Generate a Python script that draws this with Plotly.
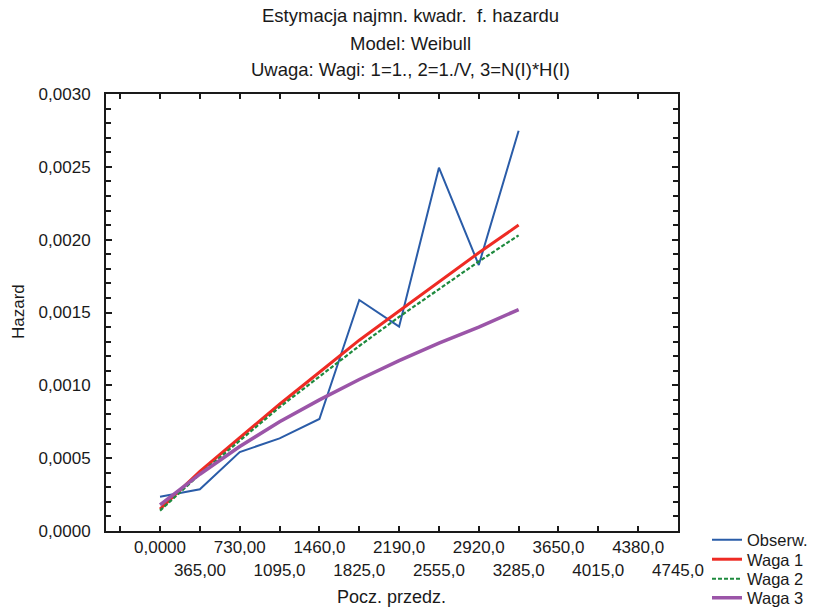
import plotly.graph_objects as go

# ---- data ----
x_start = [0, 365, 730, 1095, 1460, 1825, 2190, 2555, 2920, 3285]
obserw = [0.000235, 0.000286, 0.000542, 0.000636, 0.000769, 0.001586, 0.001403, 0.002494, 0.001826, 0.002748]
waga1 = [0.00015, 0.00041, 0.00064, 0.00087, 0.00109, 0.00131, 0.00151, 0.00171, 0.00191, 0.00210]
waga2 = [0.00014, 0.00039, 0.00062, 0.00085, 0.00106, 0.00127, 0.00147, 0.00166, 0.00185, 0.00203]
waga3 = [0.00018, 0.00039, 0.00058, 0.00075, 0.00090, 0.00104, 0.00117, 0.00129, 0.00140, 0.00152]

x_tickvals = [-365, 0, 365, 730, 1095, 1460, 1825, 2190, 2555, 2920, 3285, 3650, 4015, 4380, 4745]
x_ticklabels = ["", "0,0000", "365,00", "730,00", "1095,0", "1460,0", "1825,0", "2190,0",
                "2555,0", "2920,0", "3285,0", "3650,0", "4015,0", "4380,0", "4745,0"]
y_tickvals = [0, 0.0005, 0.0010, 0.0015, 0.0020, 0.0025, 0.0030]
y_ticklabels = ["0,0000", "0,0005", "0,0010", "0,0015", "0,0020", "0,0025", "0,0030"]

title_lines = ["Estymacja najmn. kwadr.  f. hazardu", "Model: Weibull",
               "Uwaga: Wagi: 1=1., 2=1./V, 3=N(I)*H(I)"]

FONT = "Liberation Sans, Arial, sans-serif"
W, H = 818, 607
L, R, T, B = 106, 140, 94, 76
pw, ph = W - L - R, H - T - B


def px_x(px):
    return (px - L) / pw


def px_y(py):
    return (H - B - py) / ph


# staggered tick labels (alternate rows)
xt_text = []
for i, t in enumerate(x_ticklabels):
    if t and (x_tickvals[i] // 365) % 2 == 1:
        xt_text.append("<br>" + t)
    else:
        xt_text.append(t)

fig = go.Figure()
fig.add_trace(go.Scatter(x=x_start, y=obserw, mode="lines", name="Obserw.",
                         line=dict(color="#2a5ca8", width=2), legend="legend"))
fig.add_trace(go.Scatter(x=x_start, y=waga1, mode="lines", name="Waga 1",
                         line=dict(color="#ee2b24", width=3), legend="legend2"))
fig.add_trace(go.Scatter(x=x_start, y=waga2, mode="lines", name="Waga 2",
                         line=dict(color="#1e8a3e", width=2.2, dash="4px,2px"), legend="legend3"))
fig.add_trace(go.Scatter(x=x_start, y=waga3, mode="lines", name="Waga 3",
                         line=dict(color="#9b55a8", width=3.5), legend="legend4"))

legend_common = dict(font=dict(family=FONT, size=16.5, color="#1a1a1a"), bgcolor="rgba(0,0,0,0)",
                     xanchor="left", yanchor="middle", x=px_x(707), itemwidth=30,
                     borderwidth=0, tracegroupgap=0)
leg_y = [540, 559.5, 579, 598]

annotations = []
for txt, yy in zip(title_lines, [15, 43, 70]):
    annotations.append(dict(text=txt, xref="paper", yref="paper", x=px_x(410), y=px_y(yy),
                            xanchor="center", yanchor="middle", showarrow=False,
                            font=dict(family=FONT, size=18.5, color="#1a1a1a")))
annotations.append(dict(text="Pocz. przedz.", xref="paper", yref="paper", x=px_x(391), y=px_y(597),
                        xanchor="center", yanchor="middle", showarrow=False,
                        font=dict(family=FONT, size=18, color="#1a1a1a")))
annotations.append(dict(text="Hazard", xref="paper", yref="paper", x=px_x(18), y=px_y(312),
                        xanchor="center", yanchor="middle", showarrow=False, textangle=-90,
                        font=dict(family=FONT, size=17, color="#1a1a1a")))

fig.update_layout(
    width=W, height=H,
    margin=dict(l=L, r=R, t=T, b=B, pad=0, autoexpand=False),
    paper_bgcolor="white", plot_bgcolor="white",
    font=dict(family=FONT, size=17, color="#1a1a1a"),
    showlegend=True,
    legend=dict(legend_common, y=px_y(leg_y[0])),
    legend2=dict(legend_common, y=px_y(leg_y[1])),
    legend3=dict(legend_common, y=px_y(leg_y[2])),
    legend4=dict(legend_common, y=px_y(leg_y[3])),
    annotations=annotations,
    xaxis=dict(range=[-495, 4745], tickmode="array", tickvals=x_tickvals, ticktext=xt_text,
               ticks="inside", ticklen=5, tickwidth=2, tickcolor="#1a1a1a",
               showline=True, linewidth=2, linecolor="#1a1a1a", mirror="ticks",
               showgrid=False, zeroline=False, tickangle=0,
               tickfont=dict(family=FONT, size=17, color="#1a1a1a")),
    yaxis=dict(range=[0, 0.003], tickmode="array", tickvals=y_tickvals, ticktext=y_ticklabels,
               ticks="inside", ticklen=6, tickwidth=2, tickcolor="#1a1a1a",
               minor=dict(dtick=0.0001, ticks="inside", ticklen=5, tickwidth=2, tickcolor="#1a1a1a",
                          showgrid=False),
               showline=True, linewidth=2, linecolor="#1a1a1a", mirror="ticks",
               showgrid=False, zeroline=False, ticklabelstandoff=10,
               tickfont=dict(family=FONT, size=17, color="#1a1a1a")),
)

fig.write_html("out.html")
